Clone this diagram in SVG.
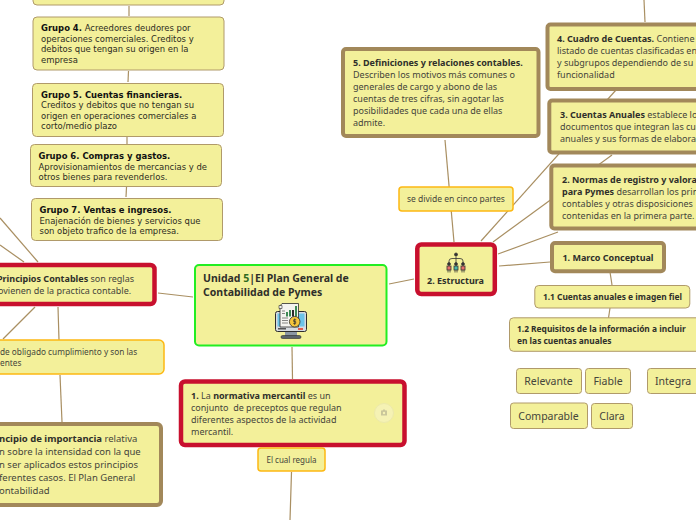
<svg xmlns="http://www.w3.org/2000/svg" width="696" height="520" viewBox="0 0 696 520">
<style>
.t{font-family:"Noto Sans","Open Sans",sans-serif;font-size:9px;fill:#45453a;white-space:pre}
.b{font-weight:700;fill:#2f2f2a}
.s{font-size:8.4px}
.m{font-size:10.500px}
.g{font-family:"DejaVu Sans",sans-serif;font-size:8.45px;fill:#2c2c22}
.gb{font-weight:700;fill:#111}
.n{fill:#f3f09a}
.thin{stroke:#b09a6a;stroke-width:1}
.brown{stroke:#a2885a;stroke-width:4}
.red{stroke:#c8102e;stroke-width:4.500}
.org{stroke:#fdb813;stroke-width:1.500}
.c line{stroke:#a98f62;stroke-width:1.200}
</style>
<rect width="696" height="520" fill="#fff"/>
<g class="c">
<line x1="129" y1="6" x2="129" y2="16"/>
<line x1="128.500" y1="71" x2="128" y2="82"/>
<line x1="127" y1="137" x2="127" y2="144"/>
<line x1="126.500" y1="187" x2="126" y2="197"/>
<line x1="0" y1="218" x2="38" y2="262"/>
<line x1="0" y1="245" x2="24" y2="262"/>
<line x1="158" y1="293" x2="193" y2="297"/>
<line x1="35" y1="307" x2="3" y2="339"/>
<line x1="58" y1="307" x2="59" y2="340"/>
<line x1="60" y1="375" x2="62" y2="422"/>
<line x1="292" y1="347" x2="292.500" y2="379"/>
<line x1="291.500" y1="472" x2="290" y2="520"/>
<line x1="389" y1="284" x2="414" y2="279"/>
<line x1="445" y1="140" x2="454" y2="242"/>
<line x1="481" y1="241" x2="616" y2="90"/>
<line x1="493" y1="242" x2="612" y2="155"/>
<line x1="498" y1="254" x2="558" y2="232"/>
<line x1="499" y1="266" x2="550" y2="262"/>
<line x1="644" y1="0" x2="645" y2="22"/>
<line x1="610" y1="272" x2="612" y2="285"/>
<line x1="610" y1="308" x2="608.500" y2="318"/>
</g>

<g id="grupo-3"><rect x="33" y="-20" width="191" height="25" rx="4" class="n thin"/></g>
<g id="grupo-4"><rect x="33" y="17" width="191" height="53" rx="4" class="n thin"/>
<text class="g" x="41" y="31"><tspan class="gb">Grupo 4.</tspan> Acreedores deudores por</text>
<text class="g" x="41" y="42">operaciones comerciales. Creditos y</text>
<text class="g" x="41" y="52">debitos que tengan su origen en la</text>
<text class="g" x="41" y="63">empresa</text></g>
<g id="grupo-5"><rect x="32.500" y="83.500" width="191" height="53" rx="4" class="n thin"/>
<text class="g gb" x="41" y="98">Grupo 5. Cuentas financieras.</text>
<text class="g" x="41" y="108">Creditos y debitos que no tengan su</text>
<text class="g" x="41" y="119">origen en operaciones comerciales a</text>
<text class="g" x="41" y="129">corto/medio plazo</text></g>
<g id="grupo-6"><rect x="30.500" y="144.500" width="191" height="42" rx="4" class="n thin"/>
<text class="g gb" x="38.500" y="159">Grupo 6. Compras y gastos.</text>
<text class="g" x="38.500" y="170">Aprovisionamientos de mercancias y de</text>
<text class="g" x="38.500" y="180">otros bienes para revenderlos.</text></g>
<g id="grupo-7"><rect x="31.500" y="198.500" width="191" height="42" rx="4" class="n thin"/>
<text class="g gb" x="39.500" y="213">Grupo 7. Ventas e ingresos.</text>
<text class="g" x="39.500" y="224">Enajenación de bienes y servicios que</text>
<text class="g" x="39.500" y="234">son objeto trafico de la empresa.</text></g>

<g id="principios"><rect x="-60" y="265" width="214.500" height="39" rx="4" class="n red"/>
<text class="t" x="-3" y="282"><tspan class="b">Principios Contables</tspan> son reglas</text>
<text class="t" x="-2" y="294">ovienen de la practica contable.</text></g>
<g id="obligado"><rect x="-60" y="340" width="224" height="34" rx="5" class="n org"/>
<text class="t" x="0" y="355" style="font-size:8.250px">de obligado cumplimiento y son las</text>
<text class="t" x="0" y="366" style="font-size:8.250px">entes</text></g>
<g id="importancia"><rect x="-60" y="424" width="221" height="81" rx="4" class="n brown"/>
<text class="t" x="-1" y="442" style="font-size:9.500px"><tspan class="b">ncipio de importancia</tspan> relativa</text>
<text class="t" x="-1" y="455" style="font-size:9.500px">n sobre la intensidad con la que</text>
<text class="t" x="-1" y="468" style="font-size:9.500px">n ser aplicados estos principios</text>
<text class="t" x="-1" y="481" style="font-size:9.500px">ferentes casos. El Plan General</text>
<text class="t" x="-1" y="494" style="font-size:9.500px">ontabilidad</text></g>

<g id="central"><rect x="195" y="265" width="191.500" height="80.500" rx="4" fill="#f3f09a" stroke="#22ee22" stroke-width="2"/>
<text class="t b" x="203" y="282" style="font-size:10.500px">Unidad <tspan fill="#2e6b1f">5</tspan>|El Plan General de</text>
<text class="t b" x="203" y="296" style="font-size:10.500px">Contabilidad de Pymes</text>
<g id="icon-pc">
<rect x="285" y="330" width="12" height="6" fill="#8b97a3"/>
<rect x="281" y="335.500" width="20" height="3" rx="1.500" fill="#59626c" stroke="#2c2c2c" stroke-width="0.600"/>
<rect x="275.500" y="311.500" width="31" height="20" rx="2" fill="#d6dbe0" stroke="#2c2c2c"/>
<rect x="277.500" y="313.500" width="27" height="13" fill="#6cc4e8"/>
<rect x="298" y="328" width="5" height="2" fill="#e25c4a"/>
<rect x="278" y="328" width="8" height="1.500" fill="#555"/>
<path d="M282 303.500h16.500v23.500h-18.500v-21z" fill="#f4f4f0" stroke="#2c2c2c" stroke-width="0.800"/>
<path d="M279 305.500h3v3h-3z" fill="#f4f4f0" stroke="#2c2c2c" stroke-width="0.600"/>
<rect x="286" y="312" width="2" height="4.500" fill="#3d8a55"/><rect x="289" y="310" width="2" height="6.500" fill="#3d8a55"/><rect x="292" y="310" width="2" height="6.500" fill="#2c2c2c"/><rect x="295" y="306" width="2" height="10.500" fill="#3d8a55"/>
<path d="M282 311h3M282 313.500h3M282 318h6M282 320.500h6M282 323h6" stroke="#555" stroke-width="0.700" fill="none"/>
<circle cx="294.700" cy="321.700" r="5.300" fill="#f5c53a" stroke="#2c2c2c" stroke-width="0.800"/>
<path d="M294.700 318.500v6.500M296.200 319.800h-2.500v1.800h2v1.800h-2.500" stroke="#2c2c2c" stroke-width="0.700" fill="none"/>
</g></g>

<g id="normativa"><rect x="181" y="381.500" width="223.500" height="63.500" rx="4" class="n red"/>
<text class="t" x="191" y="399"><tspan class="b">1.</tspan> La <tspan class="b">normativa mercantil</tspan> es un</text>
<text class="t" x="191" y="411">conjunto  de preceptos que regulan</text>
<text class="t" x="191" y="423">diferentes aspectos de la actividad</text>
<text class="t" x="191" y="435">mercantil.</text>
<circle cx="384" cy="413" r="9.500" fill="#f5f2b4" stroke="#ece9ab"/>
<path d="M381 410.500h1.500l.7-1h1.600l.7 1h1.500v5h-6z" fill="#c9c69b"/>
<circle cx="384" cy="413" r="1.200" fill="#f5f2b4"/></g>
<g id="regula"><rect x="258" y="448" width="67" height="23" rx="3" class="n org"/>
<text class="t" x="291.500" y="463" text-anchor="middle" style="font-size:8px">El cual regula</text></g>

<g id="estructura"><rect x="417.300" y="244.500" width="77.500" height="49.500" rx="4" class="n red"/>
<g id="icon-org" fill="none" stroke="#333" stroke-width="0.800">
<circle cx="456" cy="254.500" r="1.500" fill="#333"/>
<path d="M449 262.500v-1.500q0-2.500 3-2.500h8q3 0 3 2.500v1.500M456 256.500v6"/>
<circle cx="449" cy="264" r="1.400" fill="#333"/><circle cx="456" cy="264" r="1.400" fill="#333"/><circle cx="463" cy="264" r="1.400" fill="#333"/>
<rect x="447" y="266" width="4" height="4" fill="#e8716a"/><rect x="454" y="266" width="4" height="4" fill="#4bb5a8"/><rect x="461" y="266" width="4" height="4" fill="#e8716a"/>
<path d="M448 270v2.500M450 270v2.500M455 270v2.500M457 270v2.500M462 270v2.500M464 270v2.500"/>
</g>
<text class="t b" x="455.500" y="284" text-anchor="middle">2. Estructura</text></g>
<g id="cinco"><rect x="399" y="187" width="114" height="24" rx="3" class="n org"/>
<text class="t" x="456" y="202" text-anchor="middle" style="font-size:8.500px">se divide en cinco partes</text></g>
<g id="def"><rect x="343" y="49" width="195.500" height="87" rx="3" class="n brown"/>
<text class="t" x="353" y="66"><tspan class="b">5. Definiciones y relaciones contables.</tspan></text>
<text class="t" x="353" y="78">Describen los motivos más comunes o</text>
<text class="t" x="353" y="90">generales de cargo y abono de las</text>
<text class="t" x="353" y="102">cuentas de tres cifras, sin agotar las</text>
<text class="t" x="353" y="114">posibilidades que cada una de ellas</text>
<text class="t" x="353" y="126">admite.</text></g>
<g id="cuadro"><rect x="547.500" y="24.500" width="200" height="64.500" rx="3" class="n brown"/>
<text class="t" x="557" y="42"><tspan class="b">4. Cuadro de Cuentas.</tspan> Contiene</text>
<text class="t" x="557" y="54">listado de cuentas clasificadas en</text>
<text class="t" x="557" y="66">y subgrupos dependiendo de su</text>
<text class="t" x="557" y="78">funcionalidad</text></g>
<g id="anuales"><rect x="549.300" y="100.500" width="200" height="52" rx="3" class="n brown"/>
<text class="t" x="560" y="118"><tspan class="b">3. Cuentas Anuales</tspan> establece lo</text>
<text class="t" x="560" y="130">documentos que integran las cu</text>
<text class="t" x="560" y="142">anuales y sus formas de elabora</text></g>
<g id="normas"><rect x="551.300" y="165.500" width="200" height="63" rx="3" class="n brown"/>
<text class="t" x="562" y="183"><tspan class="b">2. Normas de registro y valora</tspan></text>
<text class="t" x="562" y="195"><tspan class="b">para Pymes</tspan> desarrollan los prin</text>
<text class="t" x="562" y="207">contables y otras disposiciones</text>
<text class="t" x="562" y="219">contenidas en la primera parte.</text></g>
<g id="marco"><rect x="552" y="243" width="112" height="28.300" rx="3" class="n brown"/>
<text class="t b" x="608" y="261" text-anchor="middle">1. Marco Conceptual</text></g>
<g id="imagen"><rect x="534.800" y="285.500" width="155" height="22.500" rx="4" class="n thin"/>
<text class="t b s" x="612.500" y="300" text-anchor="middle">1.1 Cuentas anuales e imagen fiel</text></g>
<g id="requisitos"><rect x="509.500" y="317.800" width="200" height="33.500" rx="4" class="n thin"/>
<text class="t b s" x="517" y="332">1.2 Requisitos de la información a incluir</text>
<text class="t b s" x="517" y="344">en las cuentas anuales</text></g>
<g id="relevante"><rect x="516.500" y="368.500" width="65" height="25" rx="3" class="n thin"/><text class="t m" x="548.500" y="385" text-anchor="middle">Relevante</text></g>
<g id="fiable"><rect x="585.500" y="368.500" width="45" height="25" rx="3" class="n thin"/><text class="t m" x="608" y="385" text-anchor="middle">Fiable</text></g>
<g id="integra"><rect x="647.500" y="368.500" width="60" height="25" rx="3" class="n thin"/><text class="t m" x="655" y="385">Integra</text></g>
<g id="comparable"><rect x="510.500" y="403" width="77" height="25.500" rx="3" class="n thin"/><text class="t m" x="548.500" y="420" text-anchor="middle">Comparable</text></g>
<g id="clara"><rect x="591.500" y="403.500" width="41" height="25" rx="3" class="n thin"/><text class="t m" x="612" y="420" text-anchor="middle">Clara</text></g>
</svg>
